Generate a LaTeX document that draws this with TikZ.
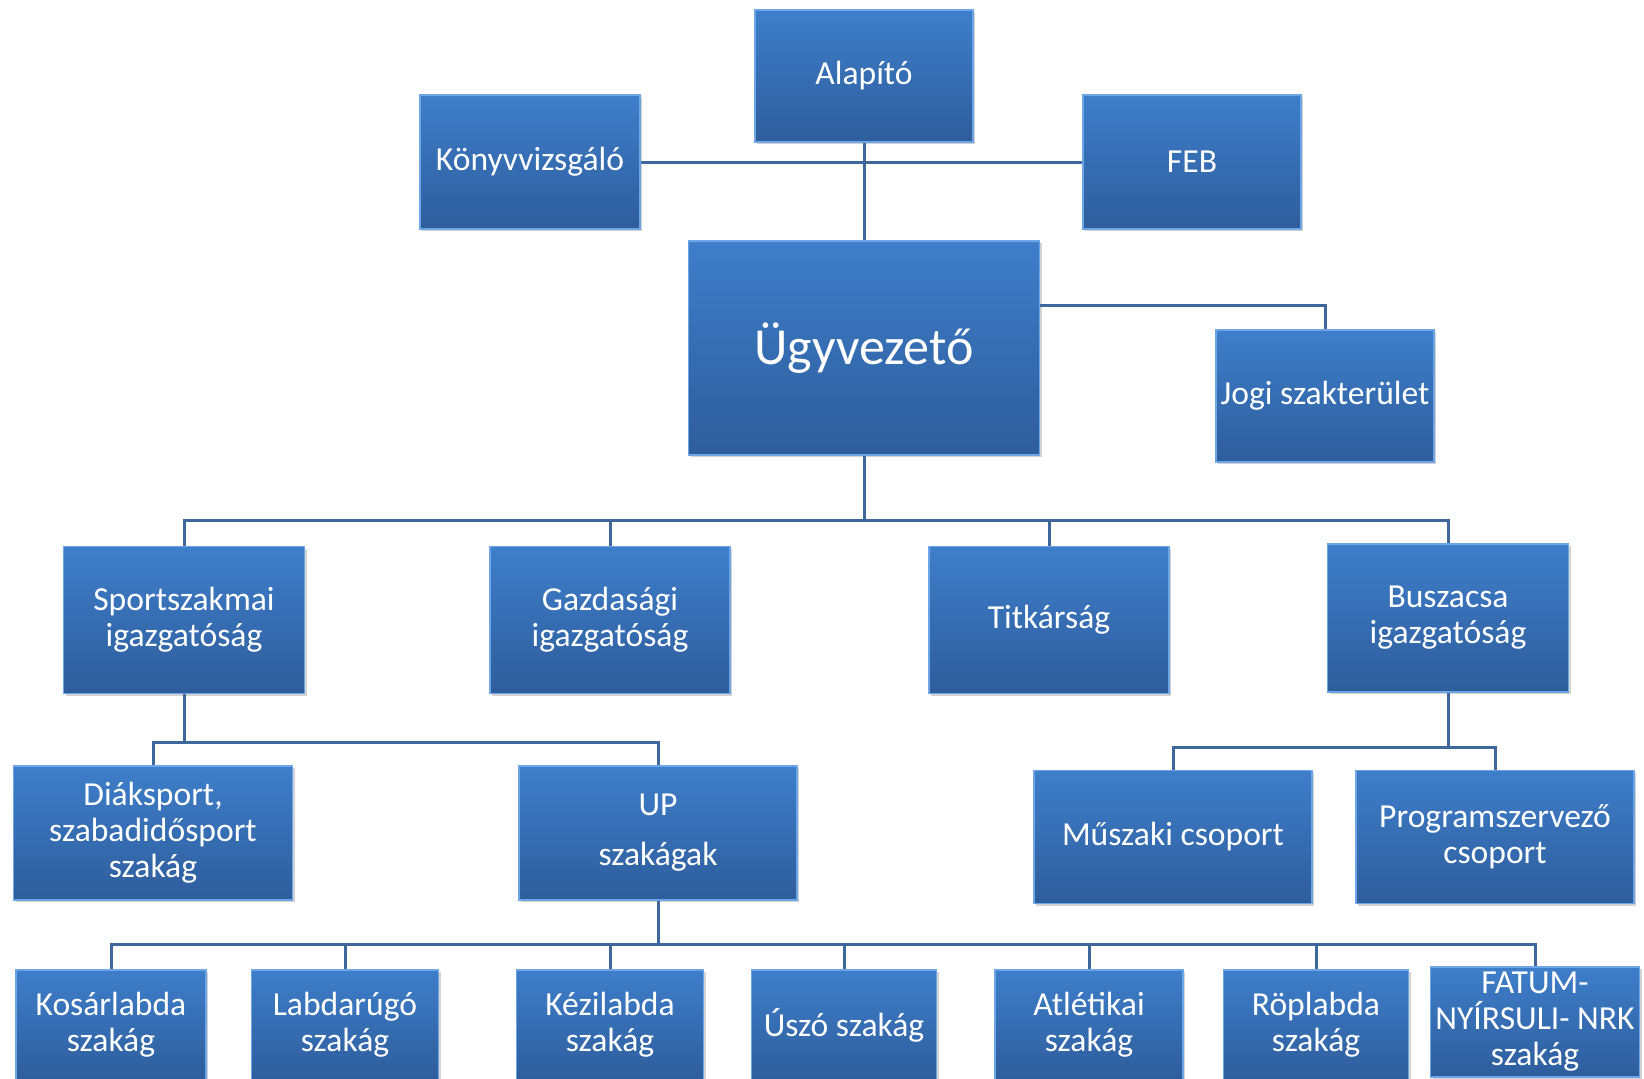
\documentclass[tikz,border=0pt]{standalone}
\usepackage{fontspec}
\setmainfont{Carlito}
\usetikzlibrary{shadows}
\definecolor{boxtop}{RGB}{62,126,202}
\definecolor{boxbot}{RGB}{46,93,156}
\definecolor{boxedge}{RGB}{110,165,230}
\definecolor{conn}{RGB}{62,104,156}
\tikzset{
  box/.style={rectangle, inner sep=0pt, align=center, text=white,
    top color=boxtop, bottom color=boxbot, draw=boxedge, line width=0.8pt,
    font=\fontsize{16.8}{18}\selectfont,
    drop shadow={shadow xshift=1.2pt, shadow yshift=-1.2pt, opacity=0.35}},
  conn/.style={draw=conn, line width=1.5pt}
}
\begin{document}
\begin{tikzpicture}[x=0.5pt, y=-0.5pt]
\useasboundingbox (0,0) rectangle (1644,1078);
\clip (0,0) rectangle (1644,1078);
% coordinates for buses
\coordinate (b1) at (864,520);
\coordinate (b2) at (400,742);
\coordinate (b3) at (1330,747);
\coordinate (b4) at (800,944);
\coordinate (jt) at (1325,305);
% boxes
\node[box, minimum width=109pt, minimum height=66pt] (alap) at (864,76) {Alapító};
\node[box, minimum width=110pt, minimum height=67pt] (kv) at (530,162) {Könyvvizsgáló};
\node[box, minimum width=109pt, minimum height=67pt] (feb) at (1192,162) {FEB};
\node[box, minimum width=175.5pt, minimum height=107pt, font=\fontsize{26}{30}\selectfont] (ugy) at (864,348) {Ügyvezető};
\node[box, minimum width=109pt, minimum height=66pt] (jogi) at (1325,396) {Jogi szakterület};
\node[box, minimum width=120.5pt, minimum height=73.5pt] (spo) at (184,620) {Sportszakmai\\igazgatóság};
\node[box, minimum width=120pt, minimum height=73.5pt] (gaz) at (610,620) {Gazdasági\\igazgatóság};
\node[box, minimum width=120pt, minimum height=73.5pt] (tit) at (1049,620) {Titkárság};
\node[box, minimum width=120.5pt, minimum height=74pt] (busz) at (1448,618) {Buszacsa\\igazgatóság};
\node[box, minimum width=139.5pt, minimum height=67pt] (dia) at (153,833) {Diáksport,\\szabadidősport\\szakág};
\node[box, minimum width=139pt, minimum height=67pt] (up) at (658,833) {UP\\[7pt]szakágak};
\node[box, minimum width=139pt, minimum height=66.5pt] (mus) at (1173,837) {Műszaki csoport};
\node[box, minimum width=139pt, minimum height=66.5pt] (prog) at (1495,837) {Programszervező\\csoport};
\node[box, minimum width=95pt, minimum height=55pt] (kos) at (111,1025) {Kosárlabda\\szakág};
\node[box, minimum width=93.5pt, minimum height=55pt] (lab) at (345,1025) {Labdarúgó\\szakág};
\node[box, minimum width=93.5pt, minimum height=55pt] (kez) at (610,1025) {Kézilabda\\szakág};
\node[box, minimum width=92.5pt, minimum height=55pt] (usz) at (844,1025) {Úszó szakág};
\node[box, minimum width=94pt, minimum height=55pt] (atl) at (1089,1025) {Atlétikai\\szakág};
\node[box, minimum width=92.5pt, minimum height=55pt] (rop) at (1316,1025) {Röplabda\\szakág};
\node[box, minimum width=104.5pt, minimum height=55pt] (fat) at (1535,1022) {FATUM-\\NYÍRSULI- NRK\\szakág};
% connectors
\draw[conn] (kv.east) -- (feb.west);
\draw[conn] (alap.south) -- (ugy.north);
\draw[conn] (ugy.east |- jt) -| (jogi.north);
\draw[conn] (ugy.south) -- (ugy.south |- b1);
\draw[conn] (spo.north) |- (b1) -| (busz.north);
\draw[conn] (gaz.north) -- (gaz.north |- b1);
\draw[conn] (tit.north) -- (tit.north |- b1);
\draw[conn] (spo.south) -- (spo.south |- b2);
\draw[conn] (dia.north) |- (b2) -| (up.north);
\draw[conn] (busz.south) -- (busz.south |- b3);
\draw[conn] (mus.north) |- (b3) -| (prog.north);
\draw[conn] (up.south) -- (up.south |- b4);
\draw[conn] (kos.north) |- (b4) -| (fat.north);
\draw[conn] (lab.north) -- (lab.north |- b4);
\draw[conn] (kez.north) -- (kez.north |- b4);
\draw[conn] (usz.north) -- (usz.north |- b4);
\draw[conn] (atl.north) -- (atl.north |- b4);
\draw[conn] (rop.north) -- (rop.north |- b4);
\end{tikzpicture}
\end{document}
